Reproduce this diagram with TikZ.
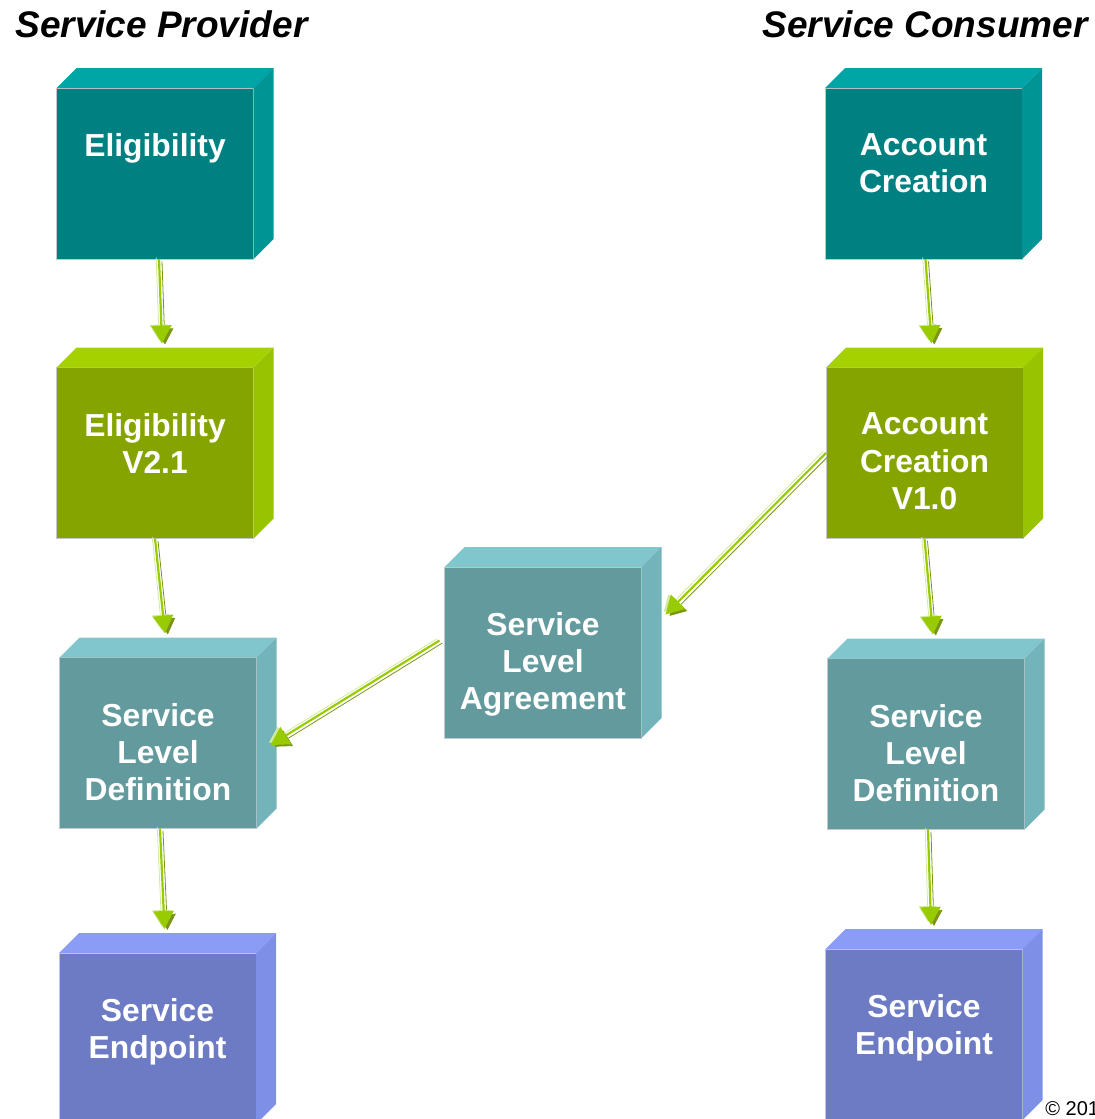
\documentclass[tikz,border=0pt]{standalone}
\usepackage{fontspec}
\setmainfont{Liberation Sans}
\usepackage{tikz}
\usetikzlibrary{arrows.meta,calc}
\definecolor{tealfront}{HTML}{008080}
\definecolor{tealtop}{HTML}{00A6A6}
\definecolor{tealside}{HTML}{009595}
\definecolor{limefront}{HTML}{86A400}
\definecolor{limetop}{HTML}{A6D100}
\definecolor{limeside}{HTML}{98C300}
\definecolor{slatefront}{HTML}{639A9E}
\definecolor{slatetop}{HTML}{80C6CC}
\definecolor{slateside}{HTML}{72B4B9}
\definecolor{perifront}{HTML}{6C7BC3}
\definecolor{peritop}{HTML}{8A9CF6}
\definecolor{periside}{HTML}{7D8FE6}
\definecolor{flowgreen}{HTML}{99CC00}
\definecolor{flowpale}{HTML}{D2E9A0}
\definecolor{flowshade}{HTML}{7A9418}
\tikzset{
  cube/.style     = {rectangle, fill=#1, draw=black!22, line width=0.4pt, minimum width=98.5pt,
                     minimum height=85.5pt, inner sep=0pt, outer sep=0pt},
  cubetext/.style = {anchor=north, yshift=-19.2pt, align=center, text=white,
                     font=\fontsize{15.9pt}{18.6pt}\selectfont\bfseries},
  party/.style    = {inner sep=0pt, font=\fontsize{18.5pt}{22pt}\selectfont\bfseries\itshape},
  flow/.style     = {-{Triangle[length=9pt,width=10pt]}, draw=flowgreen, line width=1.1pt,
                     preaction={draw=flowshade, transform canvas={shift={(1.5pt,-1.2pt)}}},
                     preaction={draw=flowpale, transform canvas={shift={(-1.4pt,0.8pt)}}}},
}
\begin{document}
\begin{tikzpicture}[x=0.5pt, y=0.5pt]
  \useasboundingbox (0,0) rectangle (1095,-1119);

  \node[party, anchor=base west] (prov) at (15,-37) {Service Provider};
  \node[party, anchor=base east] (cons) at (1088,-37) {Service Consumer};

  \node[cube=tealfront,  label={[cubetext]north:Eligibility}] (elig) at (155,-173.5) {};
  \node[cube=limefront,  label={[cubetext]north:{Eligibility\\V2.1}}] (eligv) at (155,-453) {};
  \node[cube=slatefront, label={[cubetext]north:{Service\\Level\\Definition}}] (sldl) at (158,-743) {};
  \node[cube=perifront,  label={[cubetext]north:{Service\\Endpoint}}] (sel) at (157.5,-1038.5) {};

  \node[cube=slatefront, label={[cubetext]north:{Service\\Level\\Agreement}}] (sla) at (543,-652.5) {};

  \node[cube=tealfront,  label={[cubetext]north:{Account\\Creation}}] (acc) at (923.5,-173.5) {};
  \node[cube=limefront,  label={[cubetext]north:{Account\\Creation\\V1.0}}] (accv) at (924.5,-453) {};
  \node[cube=slatefront, label={[cubetext]north:{Service\\Level\\Definition}}] (sldr) at (926,-744) {};
  \node[cube=perifront,  label={[cubetext]north:{Service\\Endpoint}}] (ser) at (924,-1034.5) {};

  \foreach \n/\tc/\sc in {elig/tealtop/tealside, acc/tealtop/tealside, eligv/limetop/limeside,
      accv/limetop/limeside, sldl/slatetop/slateside, sldr/slatetop/slateside, sla/slatetop/slateside,
      sel/peritop/periside, ser/peritop/periside} {
    \fill[\tc] (\n.north west) -- ++(20,20) -- ([shift={(20,20)}]\n.north east) -- (\n.north east) -- cycle;
    \fill[\sc] (\n.north east) -- ++(20,20) -- ([shift={(20,20)}]\n.south east) -- (\n.south east) -- cycle;
    \coordinate (\n-in) at ($(\n.north)+(7,24)$);
  }

  \draw[flow] ([xshift=2pt]elig.south) -- (eligv-in);
  \draw[flow] (eligv.south) -- (sldl-in);
  \draw[flow] ([xshift=1pt]sldl.south) -- (sel-in);
  \draw[flow] ([xshift=1pt]acc.south) -- (accv-in);
  \draw[flow] (accv.south) -- (sldr-in);
  \draw[flow] ([xshift=1pt]sldr.south) -- (ser-in);
  \draw[flow] (accv.west) -- ([shift={(24,38)}]sla.east);
  \draw[flow] ([shift={(-5,12)}]sla.west) -- ([shift={(14,-2)}]sldl.east);

  \node[anchor=base west, inner sep=0pt, font=\fontsize{10pt}{12pt}\selectfont] (copy) at (1045,-1115) {© 201};
\end{tikzpicture}
\end{document}
